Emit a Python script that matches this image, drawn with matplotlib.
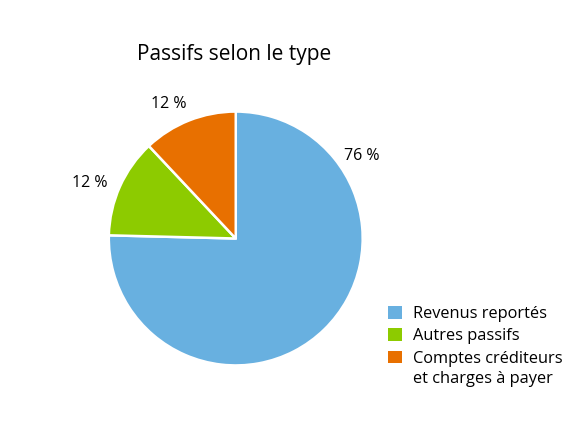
import matplotlib.pyplot as plt
from matplotlib.patches import Patch

plt.rcParams['font.family'] = ['Open Sans', 'DejaVu Sans']

# Data
categories = ['Revenus reportés', 'Autres passifs', 'Comptes créditeurs\net charges à payer']
shares = [75.4, 12.6, 12.0]
pct_labels = ['76 %', '12 %', '12 %']
colors = ['#68B0E0', '#8DCB00', '#E87000']

fig = plt.figure(figsize=(5.85, 4.21), dpi=100)
ax = fig.add_axes([0.186, 0.132, 0.434, 0.603])

wedges, _ = ax.pie(shares, colors=colors, startangle=90, counterclock=False,
                   radius=1, wedgeprops=dict(edgecolor='white', linewidth=1.8))
ax.set_xlim(-1, 1)
ax.set_ylim(-1, 1)
ax.set_aspect('equal')
ax.axis('off')

# Percentage labels placed beside each slice
label_pos = [(0.99, 0.65), (-1.15, 0.44), (-0.53, 1.06)]
for lab, (lx, ly) in zip(pct_labels, label_pos):
    ax.text(lx, ly, lab, ha='center', va='center', fontsize=11.5,
            clip_on=False)

fig.text(0.40, 0.870, 'Passifs selon le type', ha='center', va='center',
         fontsize=15)

handles = [Patch(facecolor=c, edgecolor='none') for c in colors]
leg = fig.legend(handles, categories, loc='upper left', bbox_to_anchor=(0.664, 0.273),
                 frameon=False, fontsize=11.8, handlelength=0.8, handleheight=0.8,
                 handletextpad=0.7, labelspacing=0.38, borderaxespad=0, borderpad=0)
for t in leg.get_texts():
    t.set_linespacing(1.4)
# squares sit level with the first line of a two-line label
for col in leg._legend_handle_box.get_children():
    for item in col.get_children():
        item.align = 'top'

fig.savefig('out.png', dpi=100)
